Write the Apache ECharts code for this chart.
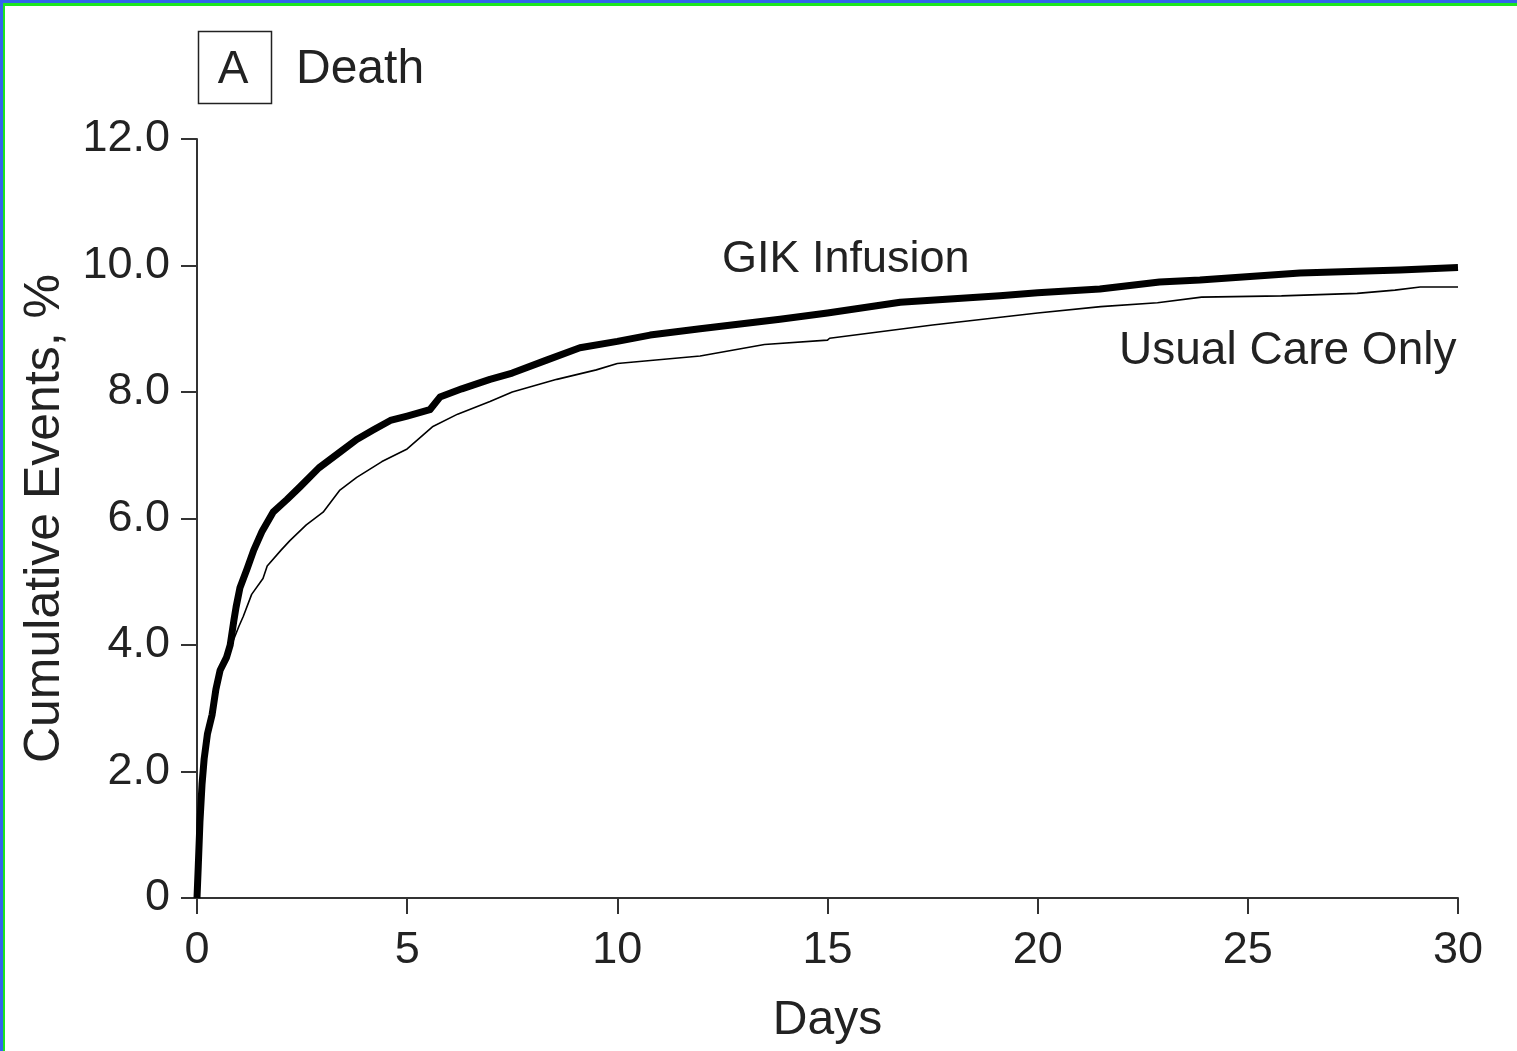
<!DOCTYPE html>
<html>
<head>
<meta charset="utf-8">
<script src="https://cdn.jsdelivr.net/npm/echarts@6/dist/echarts.min.js"></script>
<style>
  html, body { margin: 0; padding: 0; background: #fff; }
  #chart { position: absolute; left: 0; top: 0; width: 1517px; height: 1051px; }
  .b { position: absolute; }
</style>
</head>
<body>
<div id="chart"></div>
<div class="b" style="left:0;top:0;width:1517px;height:3px;background:rgb(50,100,235);"></div>
<div class="b" style="left:3px;top:3px;width:1514px;height:3px;background:rgb(30,230,30);"></div>
<div class="b" style="left:0;top:0;width:3px;height:1051px;background:rgb(50,100,235);"></div>
<div class="b" style="left:3px;top:3px;width:2px;height:1048px;background:rgb(30,230,30);"></div>
<script>
// ---- data (days, cumulative events %) ----
const gikDays = [0, 0.03, 0.07, 0.12, 0.17, 0.25, 0.36, 0.45, 0.55, 0.7, 0.79, 0.88, 0.93, 1.02, 1.19, 1.35, 1.55, 1.81, 2.14, 2.45, 2.9, 3.4, 3.8, 4.19, 4.6, 5.0, 5.54, 5.78, 6.3, 6.97, 7.5, 8.3, 9.11, 10, 10.78, 11.97, 13.87, 15, 16.73, 19.1, 20, 21.48, 22.9, 23.86, 26.24, 28.62, 30];
const gikValues = [0, 0.5, 1.2, 1.8, 2.2, 2.6, 2.9, 3.3, 3.6, 3.8, 4.0, 4.4, 4.6, 4.9, 5.2, 5.5, 5.8, 6.1, 6.3, 6.5, 6.8, 7.05, 7.25, 7.4, 7.55, 7.62, 7.72, 7.92, 8.05, 8.2, 8.3, 8.5, 8.7, 8.8, 8.9, 9.0, 9.15, 9.25, 9.42, 9.52, 9.57, 9.63, 9.74, 9.77, 9.88, 9.93, 9.97];
const usualDays = [0, 0.03, 0.07, 0.12, 0.17, 0.25, 0.4, 0.55, 0.79, 1.0, 1.1, 1.3, 1.57, 1.67, 2.0, 2.21, 2.6, 3.0, 3.4, 3.8, 4.4, 5.0, 5.6, 6.2, 6.97, 7.5, 8.56, 9.5, 10, 11.97, 13.5, 15, 15.05, 17.5, 20, 21.5, 22.85, 23.9, 25.8, 27.6, 28.5, 29.1, 30];
const usualValues = [0, 0.5, 1.2, 1.8, 2.2, 2.6, 3.1, 3.5, 3.95, 4.3, 4.45, 4.8, 5.05, 5.25, 5.5, 5.65, 5.9, 6.1, 6.45, 6.65, 6.9, 7.1, 7.45, 7.65, 7.85, 8.0, 8.2, 8.35, 8.45, 8.57, 8.75, 8.82, 8.85, 9.06, 9.25, 9.35, 9.41, 9.5, 9.52, 9.56, 9.61, 9.66, 9.66];
const yTicks = [0, 2, 4, 6, 8, 10, 12];
const xTicks = [0, 5, 10, 15, 20, 25, 30];
const seriesNames = ['GIK Infusion', 'Usual Care Only'];

const FONT = '"Liberation Sans", Arial, Helvetica, sans-serif';
const TXT = '#222';

const chart = echarts.init(document.getElementById('chart'), null, { renderer: 'canvas' });
const pair = (xs, ys) => xs.map((x, i) => [x, ys[i]]);

chart.setOption({
  animation: false,
  backgroundColor: 'transparent',
  grid: { left: 197, right: 59, top: 139, bottom: 153, containLabel: false },
  xAxis: {
    type: 'value', min: 0, max: 30, interval: 5,
    name: 'Days', nameLocation: 'middle', nameGap: 99,
    nameTextStyle: { fontFamily: FONT, fontSize: 48, color: TXT },
    axisLine: { show: true, onZero: false, lineStyle: { color: '#333', width: 2 } },
    axisTick: { show: true, inside: false, length: 16, lineStyle: { color: '#333', width: 2 } },
    axisLabel: { margin: 30, fontFamily: FONT, fontSize: 45, color: TXT,
      formatter: v => xTicks.includes(v) ? String(v) : '' },
    splitLine: { show: false }
  },
  yAxis: {
    type: 'value', min: 0, max: 12, interval: 2,
    name: 'Cumulative Events, %', nameLocation: 'middle', nameGap: 127, nameRotate: 90,
    nameTextStyle: { fontFamily: FONT, fontSize: 50, color: TXT },
    axisLine: { show: true, onZero: false, lineStyle: { color: '#333', width: 2 } },
    axisTick: { show: true, inside: false, length: 16, lineStyle: { color: '#333', width: 2 } },
    axisLabel: { margin: 27, fontFamily: FONT, fontSize: 45, color: TXT, padding: [7, 0, 0, 0],
      formatter: v => yTicks.includes(v) ? (v === 0 ? '0' : v.toFixed(1)) : '' },
    splitLine: { show: false }
  },
  series: [
    {
      name: seriesNames[1], type: 'line', data: pair(usualDays, usualValues),
      showSymbol: false, symbol: 'none', smooth: false, z: 2,
      lineStyle: { color: '#000', width: 1.6 }
    },
    {
      name: seriesNames[0], type: 'line', data: pair(gikDays, gikValues),
      showSymbol: false, symbol: 'none', smooth: false, z: 3,
      lineStyle: { color: '#000', width: 7, join: 'round', cap: 'butt' }
    }
  ],
  graphic: [
    { type: 'rect', left: 196, top: 29, shape: { x: 0, y: 0, width: 73, height: 72 },
      style: { fill: 'none', stroke: '#222', lineWidth: 1.5 } },
    { type: 'text', x: 233, y: 70, style: { text: 'A', fontFamily: FONT, fontSize: 46, fill: TXT, align: 'center', verticalAlign: 'middle' } },
    { type: 'text', x: 296, y: 70, style: { text: 'Death', fontFamily: FONT, fontSize: 48, fill: TXT, align: 'left', verticalAlign: 'middle' } },
    { type: 'text', x: 722, y: 260, style: { text: seriesNames[0], fontFamily: FONT, fontSize: 45, fill: TXT, align: 'left', verticalAlign: 'middle' } },
    { type: 'text', x: 1119, y: 351, style: { text: seriesNames[1], fontFamily: FONT, fontSize: 46, fill: TXT, align: 'left', verticalAlign: 'middle' } }
  ]
});
</script>
</body>
</html>
